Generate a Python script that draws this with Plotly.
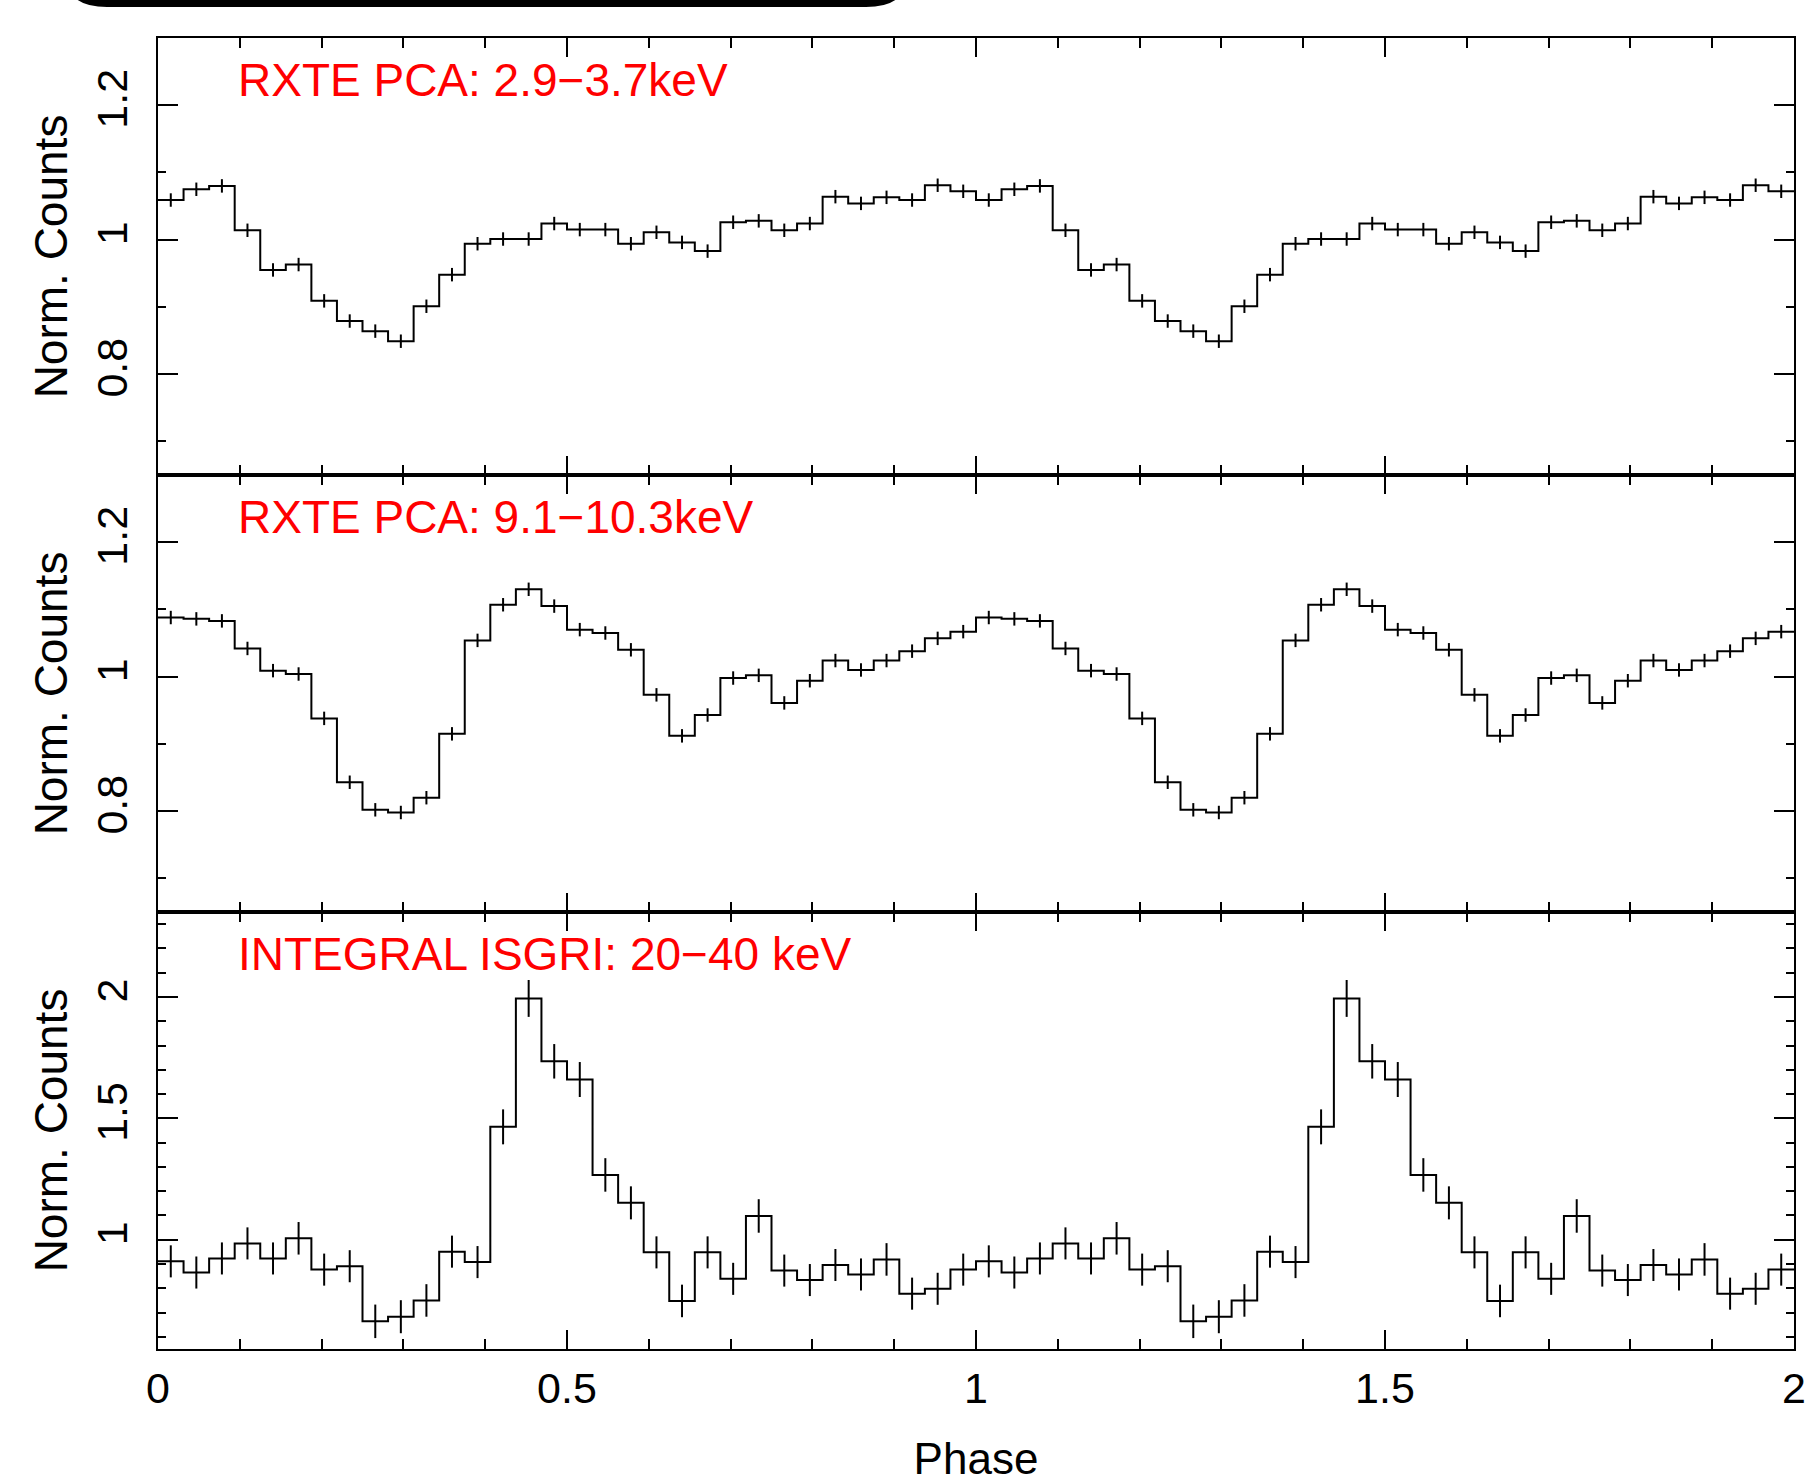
import plotly.graph_objects as go
from plotly.subplots import make_subplots

# ---- data: folded pulse profiles, 32 phase bins per cycle, shown for two cycles ----
n_bins = 32
pca_low = [1.059, 1.075, 1.080, 1.014, 0.955, 0.963, 0.909, 0.879,
           0.864, 0.849, 0.901, 0.948, 0.994, 1.001, 1.001, 1.024,
           1.015, 1.015, 0.994, 1.011, 0.996, 0.983, 1.026, 1.028,
           1.014, 1.024, 1.064, 1.054, 1.063, 1.059, 1.081, 1.072]
pca_low_err = [0.010] * n_bins

pca_high = [1.088, 1.086, 1.083, 1.042, 1.009, 1.004, 0.938, 0.843,
            0.802, 0.798, 0.820, 0.915, 1.054, 1.107, 1.130, 1.105,
            1.070, 1.065, 1.040, 0.973, 0.912, 0.943, 0.998, 1.002,
            0.961, 0.994, 1.024, 1.010, 1.024, 1.038, 1.057, 1.067]
pca_high_err = [0.010] * n_bins

isgri = [0.911, 0.865, 0.923, 0.985, 0.923, 1.006, 0.877, 0.891,
         0.664, 0.683, 0.750, 0.951, 0.908, 1.465, 1.994, 1.735,
         1.660, 1.267, 1.152, 0.948, 0.748, 0.948, 0.839, 1.098,
         0.873, 0.834, 0.896, 0.857, 0.919, 0.778, 0.798, 0.877]
isgri_err = [0.066, 0.066, 0.066, 0.066, 0.066, 0.067, 0.066, 0.066,
             0.069, 0.068, 0.067, 0.066, 0.066, 0.072, 0.076, 0.071,
             0.072, 0.069, 0.068, 0.066, 0.067, 0.066, 0.066, 0.069,
             0.066, 0.066, 0.066, 0.066, 0.067, 0.066, 0.066, 0.066]

labels = ["RXTE PCA: 2.9\u22123.7keV",
          "RXTE PCA: 9.1\u221210.3keV",
          "INTEGRAL ISGRI: 20\u221240 keV"]
y_ranges = [[0.65, 1.30], [0.65, 1.30], [0.55, 2.35]]
y_dticks = [0.2, 0.2, 0.5]

n_cycles = 2
edges = [i / n_bins for i in range(n_bins * n_cycles + 1)]
centers = [(edges[i] + edges[i + 1]) / 2 for i in range(n_bins * n_cycles)]

series = [(pca_low, pca_low_err), (pca_high, pca_high_err), (isgri, isgri_err)]

FONT = "Liberation Sans, Arial, Helvetica, sans-serif"

fig = make_subplots(rows=3, cols=1, shared_xaxes=True, vertical_spacing=0)

for r, (vals, errs) in enumerate(series, start=1):
    v2 = vals * n_cycles
    e2 = errs * n_cycles
    fig.add_trace(go.Scatter(x=edges, y=v2 + [v2[-1]], mode="lines",
                             line=dict(shape="hv", color="black", width=2),
                             showlegend=False, hoverinfo="skip"), row=r, col=1)
    fig.add_trace(go.Scatter(x=centers, y=v2, mode="markers",
                             marker=dict(size=1, color="black"),
                             error_y=dict(type="data", array=e2, visible=True,
                                          color="black", thickness=2, width=0),
                             showlegend=False), row=r, col=1)
    fig.add_annotation(x=0.1, y=1, xref=f"x{'' if r == 1 else r}",
                       yref=f"y{'' if r == 1 else r} domain",
                       text=labels[r - 1], showarrow=False,
                       xanchor="left", yanchor="top", xshift=-4, yshift=-14,
                       font=dict(family=FONT, size=46, color="#ff0000"))
    fig.update_yaxes(row=r, col=1, range=y_ranges[r - 1], automargin=False,
                     tickmode="linear", tick0=0, dtick=y_dticks[r - 1],
                     ticks="inside", ticklen=20, tickwidth=2, tickcolor="black",
                     minor=dict(dtick=0.1, tick0=0, ticks="inside", ticklen=8,
                                tickwidth=2, tickcolor="black"),
                     showline=True, linewidth=1.8, linecolor="black", mirror="ticks",
                     showgrid=False, zeroline=False, tickangle=-90,
                     ticklabelstandoff=12,
                     tickfont=dict(family=FONT, size=43, color="black"),
                     title=dict(text="Norm. Counts", standoff=6,
                                font=dict(family=FONT, size=46, color="black")))
    fig.update_xaxes(row=r, col=1, range=[0, 2], automargin=False,
                     tickmode="linear", tick0=0, dtick=0.5,
                     ticks="inside", ticklen=19, tickwidth=2, tickcolor="black",
                     minor=dict(dtick=0.1, tick0=0, ticks="inside", ticklen=10,
                                tickwidth=2, tickcolor="black"),
                     showline=True, linewidth=1.8, linecolor="black", mirror="ticks",
                     showgrid=False, zeroline=False)

fig.update_xaxes(row=3, col=1, tickfont=dict(family=FONT, size=43, color="black"),
                 title=dict(text="Phase", standoff=51,
                            font=dict(family=FONT, size=44, color="black")))

# cropped rounded black box at the top edge
def px(x):
    return (x - 158) / 1636

def py(y):
    return (1349 - y) / 1311

x0, x1, rx = 67, 906, 40
yb, ry, ytop = 7, 30, -40
path = (f"M {px(x0)},{py(ytop)} L {px(x0)},{py(yb - ry)} "
        f"Q {px(x0)},{py(yb)} {px(x0 + rx)},{py(yb)} "
        f"L {px(x1 - rx)},{py(yb)} Q {px(x1)},{py(yb)} {px(x1)},{py(yb - ry)} "
        f"L {px(x1)},{py(ytop)} Z")
fig.add_shape(type="path", path=path, xref="paper", yref="paper",
              fillcolor="black", line=dict(color="black", width=0), layer="above")

fig.update_layout(width=1811, height=1483,
                  margin=dict(l=158, r=17, t=38, b=134),
                  paper_bgcolor="white", plot_bgcolor="white",
                  font=dict(family=FONT, color="black"))

fig.write_html("out.html")
